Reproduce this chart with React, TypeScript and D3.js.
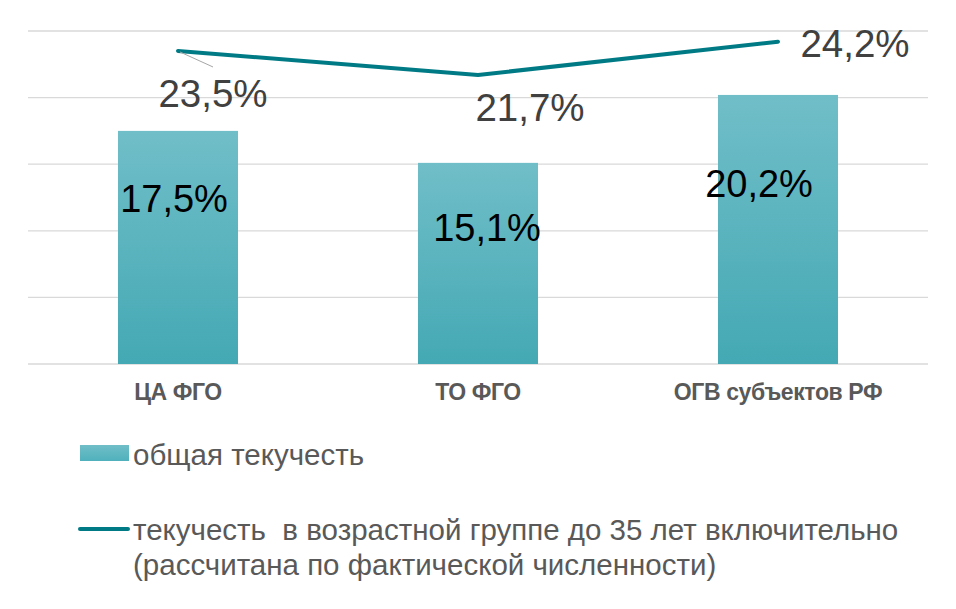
import React from "react";
import * as d3 from "d3";

const categories = ["ЦА ФГО", "ТО ФГО", "ОГВ субъектов РФ"];
const totalTurnover = [17.5, 15.1, 20.2];
const youthTurnover = [23.5, 21.7, 24.2];
const yTicks = [0, 5, 10, 15, 20, 25];
const legendBar = "общая текучесть";
const legendLine = [
  "текучесть  в возрастной группе до 35 лет включительно",
  "(рассчитана по фактической численности)",
];

// label placement offsets (layout only)
const barLabelOffsets: [number, number][] = [[-4, 81], [9, 78], [-19, 102]];
const lineLabelOffsets: [number, number][] = [[35, 56], [52, 46], [77, 15]];

const fmt = (v: number) => v.toFixed(1).replace(".", ",") + "%";

export default function App() {
  const W = 956, H = 609;
  const x = d3.scaleBand<string>().domain(categories).range([28, 928]).paddingInner(0.6).paddingOuter(0.3);
  const y = d3.scaleLinear().domain([0, 25]).range([364, 31]);
  const line = d3.line<number>()
    .x((_, i) => (x(categories[i]) as number) + x.bandwidth() / 2)
    .y((d) => y(d));
  const font = "'Liberation Sans', Arial, sans-serif";
  const p0x = (x(categories[0]) as number) + x.bandwidth() / 2;
  const p0y = y(youthTurnover[0]);
  return (
    <svg width={W} height={H} style={{ position: "absolute", left: 0, top: 0, background: "#fff" }} fontFamily={font}>
      <defs>
        <linearGradient id="barGrad" x1="0" y1="0" x2="0" y2="1">
          <stop offset="0" stopColor="#70bec8" />
          <stop offset="1" stopColor="#44a9b4" />
        </linearGradient>
        <linearGradient id="legGrad" x1="0" y1="0" x2="0" y2="1">
          <stop offset="0" stopColor="#70bec8" />
          <stop offset="1" stopColor="#4fb1bc" />
        </linearGradient>
      </defs>
      {yTicks.map((t) => (
        <line key={t} x1={28} x2={928} y1={y(t)} y2={y(t)} stroke="#d9d9d9" strokeWidth={1.3} />
      ))}
      {categories.map((c, i) => (
        <rect key={c} x={x(c)} y={y(totalTurnover[i])} width={x.bandwidth()} height={y(0) - y(totalTurnover[i])} fill="url(#barGrad)" />
      ))}
      {categories.map((c, i) => (
        <text key={c} x={(x(c) as number) + x.bandwidth() / 2 + barLabelOffsets[i][0]} y={y(totalTurnover[i]) + barLabelOffsets[i][1]} textAnchor="middle" fontSize={38} fill="#000">
          {fmt(totalTurnover[i])}
        </text>
      ))}
      <path d={line(youthTurnover) || ""} fill="none" stroke="#007b86" strokeWidth={4} strokeLinecap="round" strokeLinejoin="round" />
      <line x1={p0x + 2} y1={p0y + 1} x2={p0x + 35} y2={p0y + 16} stroke="#a6a6a6" strokeWidth={1} />
      {categories.map((c, i) => (
        <text key={c} x={(x(c) as number) + x.bandwidth() / 2 + lineLabelOffsets[i][0]} y={y(youthTurnover[i]) + lineLabelOffsets[i][1]} textAnchor="middle" fontSize={38.5} fill="#404040">
          {fmt(youthTurnover[i])}
        </text>
      ))}
      {categories.map((c) => (
        <text key={c} x={(x(c) as number) + x.bandwidth() / 2} y={400} textAnchor="middle" fontSize={23} fontWeight="bold" fill="#595959" letterSpacing={-0.4}>
          {c}
        </text>
      ))}
      <rect x={80} y={445} width={49} height={16} fill="url(#legGrad)" />
      <text x={133} y={465} fontSize={29.5} fill="#595959">{legendBar}</text>
      <line x1={80} x2={128} y1={529} y2={529} stroke="#007b86" strokeWidth={4} strokeLinecap="round" />
      <text x={133} y={540} fontSize={29.5} fill="#595959" style={{ whiteSpace: "pre" }}>{legendLine[0]}</text>
      <text x={133} y={575} fontSize={29.5} fill="#595959">{legendLine[1]}</text>
    </svg>
  );
}
